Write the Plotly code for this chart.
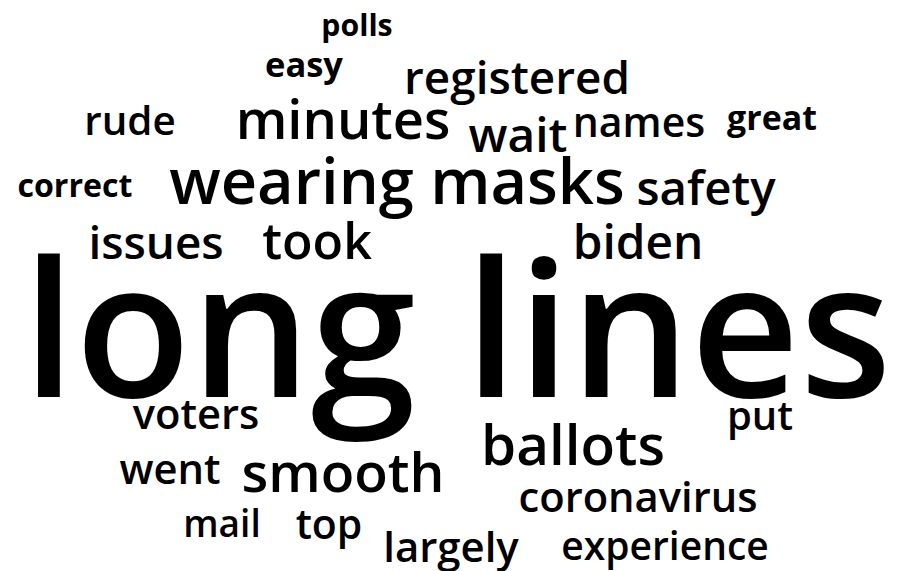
import plotly.graph_objects as go

# word list and relative frequency (largest term = 100)
words = ["long lines", "wearing masks", "ballots", "smooth", "minutes", "took",
         "biden", "wait", "registered", "issues", "safety", "coronavirus",
         "went", "largely", "names", "voters", "rude", "put", "top",
         "experience", "mail", "easy", "great", "correct", "polls"]
freq = [97, 32.4, 29, 28.2, 27.8, 25.7, 24.5, 24.5, 23.5, 23.5, 24.3, 21.4,
        21.4, 21.5, 21, 21.4, 20.7, 20.5, 21, 20, 19, 17.7, 17.4, 16.5, 15.5]

# layout of the cloud (pixel centre x, baseline y) -- placement only
pos_x = [457, 397, 573, 343, 343, 317, 638, 518, 517, 156, 706, 638,
         170, 451, 639, 196, 130, 760, 329, 665, 222, 304, 772, 75, 357]
pos_y = [395, 202, 463, 490, 137, 257, 257, 150, 92, 257, 203, 510,
         482, 560, 135, 427, 133, 428, 537, 558, 535, 75, 128, 195, 34]

px_per_unit = 1.95
sizes = [f * px_per_unit for f in freq]
heavy = {"easy", "great", "correct", "polls"}
weights = [700 if w in heavy else 600 for w in words]

fig = go.Figure()
for w, x, yb, s, wt in zip(words, pos_x, pos_y, sizes, weights):
    fig.add_trace(go.Scatter(
        x=[x], y=[yb - 0.25 * s + 2], mode="text", text=[w],
        textposition="middle center",
        textfont=dict(family="Open Sans", size=s, color="black", weight=wt),
        hoverinfo="skip", showlegend=False))

# the page body has an 8px margin, so the figure starts at (8, 8)
fig.update_xaxes(range=[8, 900], visible=False)
fig.update_yaxes(range=[571, 8], visible=False)
fig.update_layout(width=892, height=563, margin=dict(l=0, r=0, t=0, b=0),
                  plot_bgcolor="white", paper_bgcolor="white")
fig.write_html("out.html")
